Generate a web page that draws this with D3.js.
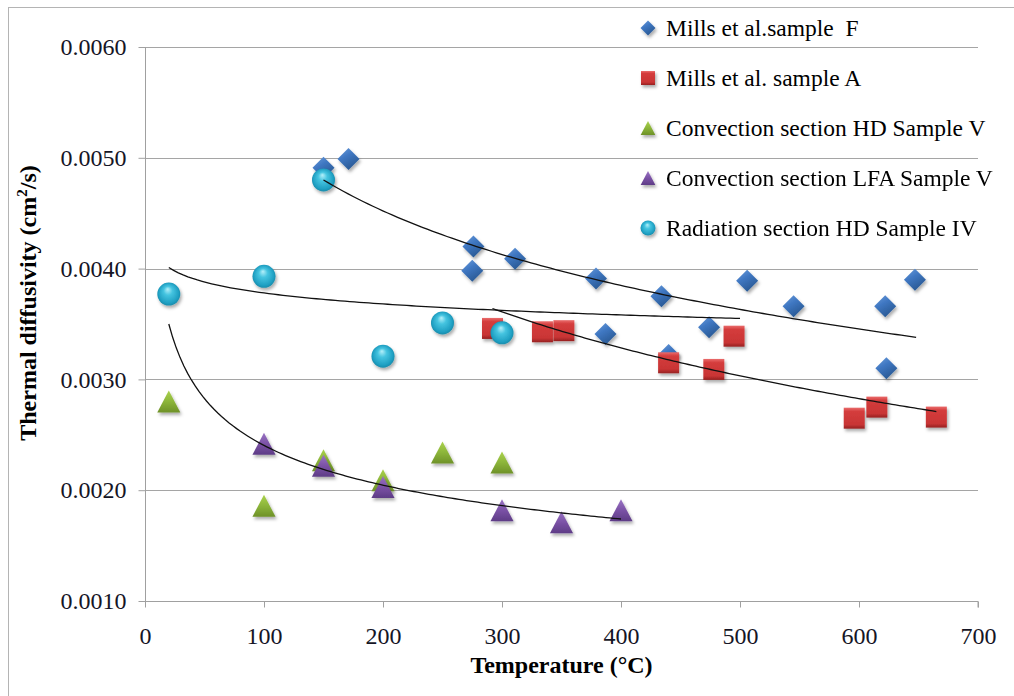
<!DOCTYPE html>
<html>
<head>
<meta charset="utf-8">
<script src="https://cdn.jsdelivr.net/npm/d3@7"></script>
<style>
  body { margin: 0; background: #fff; }
  svg { display: block; }
</style>
</head>
<body>
<svg id="chart" width="1014" height="696"></svg>
<script>
// ---- data: temperature (°C) and thermal diffusivity (cm²/s) ----
const millsF_T = [150, 171, 276, 275, 311, 379, 387, 434, 440, 474, 506, 545, 622, 623, 647];
const millsF_D = [0.00491, 0.00499, 0.00420, 0.00398, 0.00409, 0.00391, 0.00341, 0.00375, 0.00322, 0.00347, 0.00389, 0.00366, 0.00366, 0.00310, 0.00390];

const millsA_T = [292, 334, 352, 440, 478, 495, 596, 615, 665];
const millsA_D = [0.00346, 0.00343, 0.00344, 0.00315, 0.00309, 0.00339, 0.00265, 0.00275, 0.00266];

const convHD_T = [20, 100, 150, 200, 250, 300];
const convHD_D = [0.00280, 0.00186, 0.00227, 0.00209, 0.00234, 0.00225];

const convLFA_T = [100, 150, 200, 300, 350, 400];
const convLFA_D = [0.00242, 0.00222, 0.00203, 0.00182, 0.00171, 0.00182];

const radHD_T = [20, 100, 150, 200, 250, 300];
const radHD_D = [0.00377, 0.00393, 0.00480, 0.00321, 0.00351, 0.00342];

const seriesNames = [
  "Mills et al.sample  F",
  "Mills et al. sample A",
  "Convection section HD Sample V",
  "Convection section LFA Sample V",
  "Radiation section HD Sample IV"
];

// trend curves: kind, start (T, D), end (T, D)
const trendKinds = ["log", "log", "log", "power"];
const trendFrom = [[150, 0.00480], [20, 0.00401], [292, 0.00364], [20, 0.00350]];
const trendTo   = [[648, 0.00338], [500, 0.00355], [665, 0.00271], [400, 0.00174]];

const xTicks = [0, 100, 200, 300, 400, 500, 600, 700];
const yTicks = [0.0010, 0.0020, 0.0030, 0.0040, 0.0050, 0.0060];

const FONT = "'Liberation Serif', 'Times New Roman', serif";

// ---- layout ----
const svg = d3.select("#chart");
const plot = { left: 145, right: 978, top: 47, bottom: 601 };

const x = d3.scaleLinear().domain([0, 700]).range([plot.left, plot.right]);
const y = d3.scaleLinear().domain([0.0010, 0.0060]).range([plot.bottom, plot.top]);

// outer frame
svg.append("rect").attr("x", 8.5).attr("y", 7.5).attr("width", 1020).attr("height", 700)
  .attr("fill", "none").attr("stroke", "#b4b4b4").attr("stroke-width", 1);

// ---- defs: gradients and shadow ----
const defs = svg.append("defs");
const shadow = defs.append("filter").attr("id", "shadow")
  .attr("x", "-50%").attr("y", "-50%").attr("width", "200%").attr("height", "200%");
shadow.append("feDropShadow").attr("dx", 1.5).attr("dy", 2.5).attr("stdDeviation", 1.4)
  .attr("flood-color", "#000").attr("flood-opacity", 0.32);

function linGrad(id, stops, x2 = 0, y2 = 1) {
  const g = defs.append("linearGradient").attr("id", id)
    .attr("x1", 0).attr("y1", 0).attr("x2", x2).attr("y2", y2);
  stops.forEach(s => g.append("stop").attr("offset", s[0]).attr("stop-color", s[1]));
}
linGrad("gBlue", [[0, "#6f9fdc"], [0.45, "#3f77c2"], [1, "#285892"]], 0.6, 1);
linGrad("gRed", [[0, "#ea6d6d"], [0.18, "#d43c3c"], [0.8, "#c93535"], [1, "#962121"]]);
linGrad("gGreen", [[0, "#aad24c"], [0.5, "#8cb53a"], [1, "#6e9128"]]);
linGrad("gPurple", [[0, "#9a74c4"], [0.5, "#7b52a6"], [1, "#5e3c86"]]);
const rg = defs.append("radialGradient").attr("id", "gCyan")
  .attr("cx", 0.5).attr("cy", 0.5).attr("r", 0.55).attr("fx", 0.45).attr("fy", 0.28);
[[0, "#b6f0fa"], [0.35, "#45c4e0"], [0.8, "#1f9fc2"], [1, "#17829f"]]
  .forEach(s => rg.append("stop").attr("offset", s[0]).attr("stop-color", s[1]));

// marker shapes centred on the origin
const shapes = {
  diamond: s => `M0,${-s}L${s},0L0,${s}L${-s},0Z`,
  square: s => `M${-s},${-s}H${s}V${s}H${-s}Z`,
  triangle: s => `M0,${-s}L${s * 1.05},${s}L${-s * 1.05},${s}Z`,
  circle: s => `M${-s},0A${s},${s} 0 1,0 ${s},0A${s},${s} 0 1,0 ${-s},0Z`
};

const series = [
  { T: millsF_T, D: millsF_D, shape: "diamond", size: 11, legendSize: 7.5, fill: "url(#gBlue)" },
  { T: millsA_T, D: millsA_D, shape: "square", size: 10.5, legendSize: 7, fill: "url(#gRed)" },
  { T: convHD_T, D: convHD_D, shape: "triangle", size: 11, legendSize: 7, fill: "url(#gGreen)" },
  { T: convLFA_T, D: convLFA_D, shape: "triangle", size: 11, legendSize: 7, fill: "url(#gPurple)" },
  { T: radHD_T, D: radHD_D, shape: "circle", size: 11.5, legendSize: 7.5, fill: "url(#gCyan)" }
];

// ---- gridlines ----
svg.append("g").selectAll("line").data(yTicks).join("line")
  .attr("x1", plot.left).attr("x2", plot.right)
  .attr("y1", d => Math.round(y(d)) + 0.5).attr("y2", d => Math.round(y(d)) + 0.5)
  .attr("stroke", "#a5a5a5").attr("stroke-width", 1);

// ---- axes ----
const axisColor = "#a0a0a0";
const yAxis = svg.append("g").attr("transform", `translate(${plot.left + 0.5},0)`)
  .call(d3.axisLeft(y).tickValues(yTicks).tickSize(7).tickPadding(12).tickFormat(d3.format(".4f")));
const xAxis = svg.append("g").attr("transform", `translate(0,${plot.bottom + 0.5})`)
  .call(d3.axisBottom(x).tickValues(xTicks).tickSize(6).tickPadding(19).tickFormat(d3.format("d")));
[xAxis, yAxis].forEach(a => {
  a.attr("font-family", null);
  a.select(".domain").attr("stroke", axisColor);
  a.selectAll(".tick line").attr("stroke", axisColor);
  a.selectAll(".tick text").attr("fill", "#151525")
    .style("font-family", FONT).style("font-size", "24px");
});
yAxis.select(".domain").attr("d", `M0,${plot.top}V${plot.bottom}`);
xAxis.select(".domain").attr("d", `M${plot.left},0H${plot.right}V6`);

// ---- axis titles ----
svg.append("text").attr("x", (plot.left + plot.right) / 2).attr("y", 673)
  .attr("text-anchor", "middle").attr("font-weight", "bold")
  .style("font-family", FONT).style("font-size", "24px")
  .attr("fill", "#000").text("Temperature (°C)");

const yt = svg.append("text").attr("transform", "translate(36,303) rotate(-90)")
  .attr("text-anchor", "middle").attr("font-weight", "bold")
  .style("font-family", FONT).style("font-size", "24px").attr("fill", "#000");
yt.append("tspan").text("Thermal diffusivity (cm");
yt.append("tspan").style("font-size", "15px").attr("dy", -9).text("2");
yt.append("tspan").attr("dy", 9).text("/s)");

// ---- markers ----
series.forEach(s => {
  svg.append("g").attr("filter", "url(#shadow)")
    .selectAll("path").data(s.T.map((t, i) => [t, s.D[i]])).join("path")
    .attr("transform", d => `translate(${x(d[0])},${y(d[1])})`)
    .attr("d", shapes[s.shape](s.size))
    .attr("fill", s.fill);
});

// ---- trend curves ----
function trendFn(kind, p0, p1) {
  if (kind === "log") {
    const b = (p1[1] - p0[1]) / (Math.log(p1[0]) - Math.log(p0[0]));
    const a = p0[1] - b * Math.log(p0[0]);
    return t => a + b * Math.log(t);
  }
  const b = Math.log(p1[1] / p0[1]) / Math.log(p1[0] / p0[0]);
  const a = p0[1] / Math.pow(p0[0], b);
  return t => a * Math.pow(t, b);
}
const line = d3.line().x(d => x(d[0])).y(d => y(d[1])).curve(d3.curveLinear);
trendKinds.forEach((kind, i) => {
  const f = trendFn(kind, trendFrom[i], trendTo[i]);
  const t0 = trendFrom[i][0], t1 = trendTo[i][0];
  const pts = d3.range(0, 121).map(k => {
    const t = t0 + (t1 - t0) * k / 120;
    return [t, f(t)];
  });
  svg.append("path").attr("d", line(pts)).attr("fill", "none")
    .attr("stroke", "#111").attr("stroke-width", 1.3);
});

// ---- legend ----
const legend = svg.append("g").attr("transform", "translate(648,28)");
series.forEach((s, i) => {
  const row = legend.append("g").attr("transform", `translate(0,${i * 50})`);
  row.append("path").attr("d", shapes[s.shape](s.legendSize)).attr("fill", s.fill)
    .attr("filter", "url(#shadow)");
  row.append("text").attr("x", 18).attr("y", 8)
    .style("font-family", FONT).style("font-size", "23.5px").attr("fill", "#000")
    .style("white-space", "pre").text(seriesNames[i]);
});
</script>
</body>
</html>
